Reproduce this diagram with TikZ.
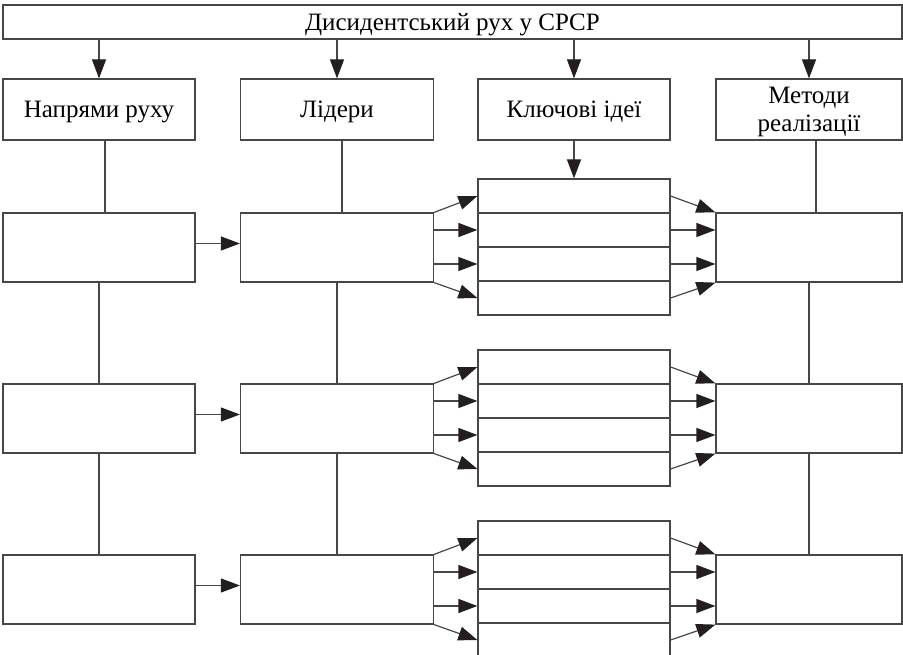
\documentclass[tikz,border=0pt]{standalone}
\usepackage{fontspec}
\setmainfont{Liberation Serif}
\usetikzlibrary{arrows.meta, calc}

\definecolor{boxgray}{gray}{0.28}
\definecolor{tipblack}{HTML}{231F20}

\tikzset{
    box/.style={draw=boxgray, line width=1.2pt, inner sep=0pt, align=center,
        text depth=0pt, font=\fontsize{25}{28}\selectfont},
    arr/.style={draw=boxgray, line width=1.2pt,
        -{Triangle[length=19pt, width=14pt, color=tipblack]}},
    link/.style={draw=boxgray, line width=1.2pt}
}

\begin{document}
\begin{tikzpicture}[x=1pt, y=-1pt]
    \useasboundingbox (0,0) rectangle (903,655);
    \clip (0,0) rectangle (903,655);

    % Title
    \node[box, minimum width=899pt, minimum height=34pt] (title) at (452.5,22) {Дисидентський рух у СРСР};

    % Headers
    \node[box, minimum width=192pt, minimum height=61pt] (dir) at (99,109.5) {Напрями руху};
    \node[box, minimum width=193pt, minimum height=61pt] (lead) at (337,109.5) {Лідери};
    \node[box, minimum width=192pt, minimum height=61pt] (idea) at (574,109.5) {Ключові ідеї};
    \node[box, minimum width=186pt, minimum height=61pt] (meth) at (809,109.5) {Методи\\реалізації};

    \foreach \h in {dir,lead,idea,meth}
        \draw[arr] (title.south -| \h.north) -- (\h.north);

    % Rows: direction -> leader -> ideas -> methods
    \foreach \r/\y in {1/213,2/384,3/555} {
        \node[box, minimum width=192pt, minimum height=69pt] (dir\r) at (99,\y+34.5) {};
        \node[box, minimum width=193pt, minimum height=69pt] (lead\r) at (337,\y+34.5) {};
        \node[box, minimum width=186pt, minimum height=69pt] (meth\r) at (809,\y+34.5) {};
        \foreach \k in {1,...,4}
            \node[box, minimum width=192pt, minimum height=34pt] (idea\r-\k) at (574,\y-34+34*\k-17) {};

        \draw[arr] ([yshift=4pt]dir\r.east) -- ([yshift=4pt]lead\r.west);

        % fan to ideas
        \draw[arr] (lead\r.north east) -- (idea\r-1.west);
        \draw[arr] (lead\r.east |- idea\r-2.west) -- (idea\r-2.west);
        \draw[arr] (lead\r.east |- idea\r-3.west) -- (idea\r-3.west);
        \draw[arr] (lead\r.south east) -- (idea\r-4.west);

        % ideas to methods
        \draw[arr] (idea\r-1.east) -- (meth\r.north west);
        \draw[arr] (idea\r-2.east) -- (meth\r.west |- idea\r-2.east);
        \draw[arr] (idea\r-3.east) -- (meth\r.west |- idea\r-3.east);
        \draw[arr] (idea\r-4.east) -- (meth\r.south west);
    }

    % Vertical links
    \draw[link] ([xshift=6pt]dir.south) -- ([xshift=6pt]dir.south |- dir1.north);
    \draw[link] ([xshift=5pt]lead.south) -- ([xshift=5pt]lead.south |- lead1.north);
    \draw[link] ([xshift=7pt]meth.south) -- ([xshift=7pt]meth.south |- meth1.north);
    \draw[arr] (idea.south) -- (idea1-1.north);
    \foreach \a/\b in {1/2,2/3} {
        \draw[link] (dir\a.south) -- (dir\b.north);
        \draw[link] (lead\a.south) -- (lead\b.north);
        \draw[link] (meth\a.south) -- (meth\b.north);
    }
\end{tikzpicture}
\end{document}
